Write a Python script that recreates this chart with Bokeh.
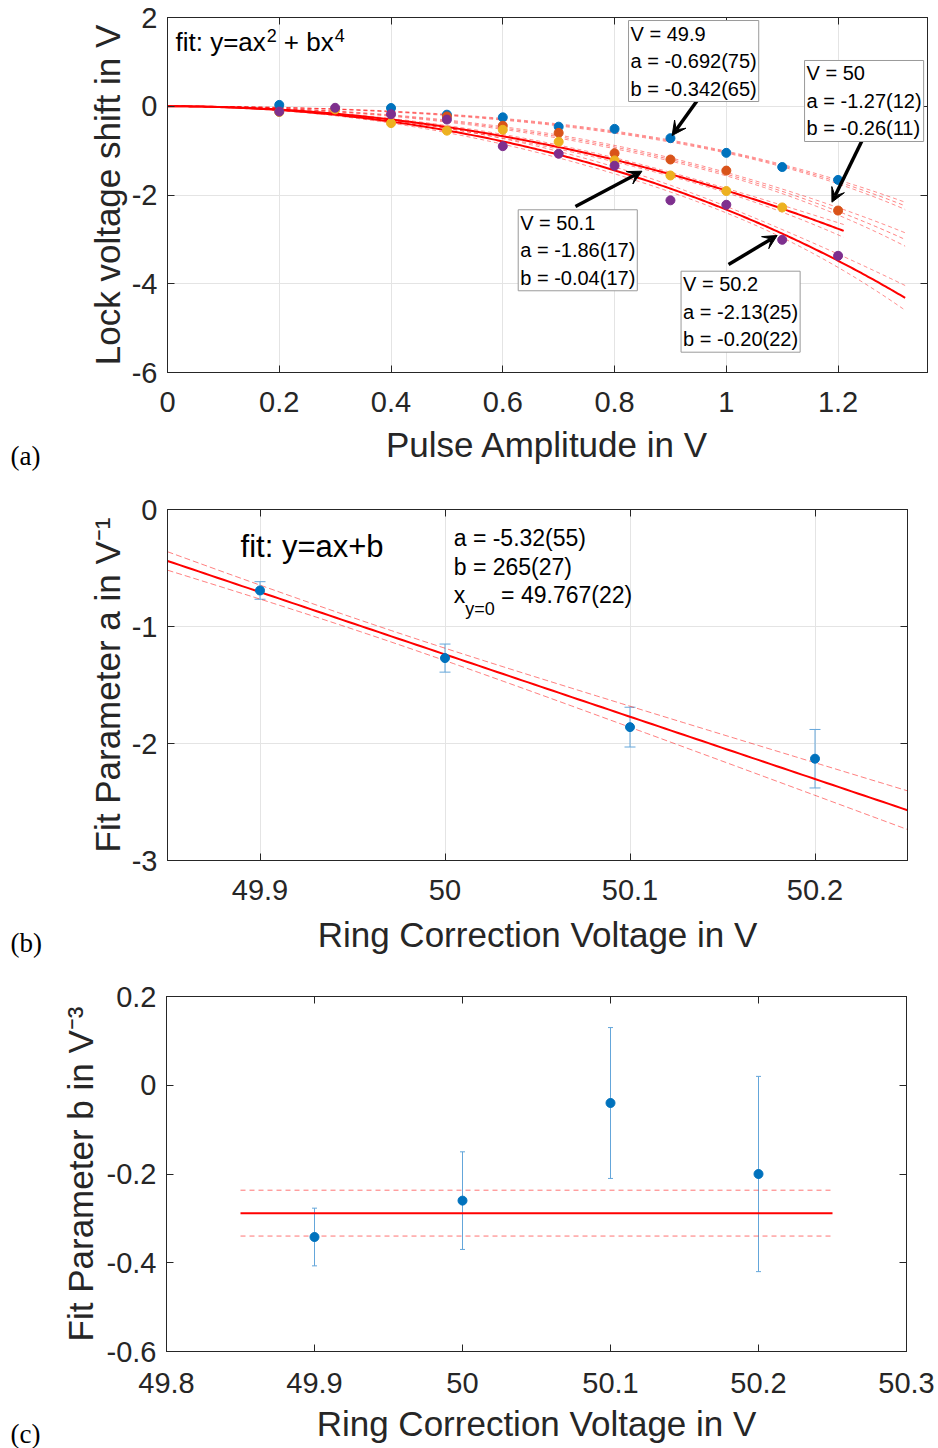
import numpy as np
from bokeh.plotting import figure
from bokeh.layouts import column, row
from bokeh.models import (FixedTicker, LinearAxis, Range1d, Label, Arrow, VeeHead,
                          Whisker, TeeHead, ColumnDataSource)
from bokeh.embed import file_html
from bokeh.resources import INLINE

# ---------------- data ----------------
ring_voltage = [49.9, 50.0, 50.1, 50.2]
ring_text = ["49.9", "50", "50.1", "50.2"]
fit_a = [-0.692, -1.27, -1.86, -2.13]
fit_a_err = [0.075, 0.12, 0.17, 0.25]
fit_b = [-0.342, -0.26, -0.04, -0.20]
fit_b_err = [0.065, 0.11, 0.17, 0.22]
a_text = ["-0.692(75)", "-1.27(12)", "-1.86(17)", "-2.13(25)"]
b_text = ["-0.342(65)", "-0.26(11)", "-0.04(17)", "-0.20(22)"]

# Panel (a): lock voltage shift vs pulse amplitude, one series per ring voltage
amp_499 = [0.2, 0.4, 0.5, 0.6, 0.7, 0.8, 0.9, 1.0, 1.1, 1.2]
shift_499 = [0.03, -0.04, -0.19, -0.25, -0.46, -0.51, -0.72, -1.05, -1.37, -1.66]
amp_500 = [0.5, 0.6, 0.7, 0.8, 0.9, 1.0, 1.2]
shift_500 = [-0.23, -0.44, -0.60, -1.06, -1.20, -1.45, -2.35]
amp_501 = [0.2, 0.3, 0.4, 0.5, 0.6, 0.7, 0.8, 0.9, 1.0, 1.1]
shift_501 = [-0.13, -0.07, -0.38, -0.55, -0.53, -0.80, -1.22, -1.56, -1.91, -2.28]
amp_502 = [0.2, 0.3, 0.4, 0.5, 0.6, 0.7, 0.8, 0.9, 1.0, 1.1, 1.2]
shift_502 = [-0.12, -0.035, -0.18, -0.30, -0.90, -1.07, -1.34, -2.12, -2.22, -3.01, -3.37]

# Panel (b) linear fit result texts
lin_a_text = "a = -5.32(55)"
lin_b_text = "b = 265(27)"
lin_x0_text = "= 49.767(22)"
lin_slope_err = 0.55

panel_names = ["(a)", "(b)", "(c)"]

# ticks
xt_a = [0, 0.2, 0.4, 0.6, 0.8, 1.0, 1.2]
xl_a = ["0", "0.2", "0.4", "0.6", "0.8", "1", "1.2"]
yt_a = [-6, -4, -2, 0, 2]
yl_a = ["-6", "-4", "-2", "0", "2"]
xt_b = [49.9, 50.0, 50.1, 50.2]
xl_b = ["49.9", "50", "50.1", "50.2"]
yt_b = [-3, -2, -1, 0]
yl_b = ["-3", "-2", "-1", "0"]
xt_c = [49.8, 49.9, 50.0, 50.1, 50.2, 50.3]
xl_c = ["49.8", "49.9", "50", "50.1", "50.2", "50.3"]
yt_c = [-0.6, -0.4, -0.2, 0, 0.2]
yl_c = ["-0.6", "-0.4", "-0.2", "0", "0.2"]

# ---------------- style ----------------
FONT = "Liberation Sans"
SERIF = "Liberation Serif"
AXC = "#262626"
COLORS = ["#0072BD", "#D95319", "#EDB120", "#7E2F8E"]
EBC = "#64a6da"
LABW = 50  # width of the strip holding the panel letter
BASE_SHIFT = 0.3465  # em offset between label anchor and alphabetic baseline

AW = {' ': 278, '(': 333, ')': 333, '+': 584, '-': 333, '.': 278, ':': 278, '=': 584,
      'a': 556, 'b': 556, 'f': 278, 'i': 222, 't': 278, 'x': 500, 'y': 500, 'V': 667}
for _d in "0123456789":
    AW[_d] = 556


def tw(s, size):
    return sum(AW.get(c, 556) for c in s) * size / 1000.0


def rich(p, x, y, pieces):
    off = 0.0
    for text, size, dy, gap in pieces:
        off += gap
        p.add_layout(Label(x=x, y=y, x_offset=off, y_offset=dy + BASE_SHIFT * size, text=text,
                           text_font=FONT, text_font_size=f"{size}px",
                           text_baseline="middle", text_align="left",
                           text_color="black"))
        off += tw(text, size)


def style(p, xt, xl, yt, yl, xtitle, ytitle, grid, xls=19, xas=10, yls=10, yas=2):
    xa, ya = p.xaxis[0], p.yaxis[0]
    xa.ticker = FixedTicker(ticks=xt)
    ya.ticker = FixedTicker(ticks=yt)
    xa.major_label_overrides = dict(zip(xt, xl))
    ya.major_label_overrides = dict(zip(yt, yl))
    xa.axis_label = xtitle
    ya.axis_label = ytitle
    for ax in (xa, ya):
        ax.major_label_text_font = FONT
        ax.major_label_text_font_size = "29px"
        ax.major_label_text_color = AXC
        ax.axis_label_text_font = FONT
        ax.axis_label_text_font_size = "35px"
        ax.axis_label_text_font_style = "normal"
        ax.axis_label_text_color = AXC
        ax.axis_line_color = AXC
        ax.major_tick_in = 7
        ax.major_tick_out = 0
        ax.major_tick_line_color = AXC
        ax.minor_tick_line_color = None
    xa.major_label_standoff = xls
    xa.axis_label_standoff = xas
    ya.major_label_standoff = yls
    ya.axis_label_standoff = yas
    for loc, ticks in (("above", xt), ("right", yt)):
        ax = LinearAxis(ticker=FixedTicker(ticks=ticks),
                        major_label_overrides={t: "" for t in ticks},
                        major_label_text_font_size="1px", major_label_standoff=0,
                        major_tick_in=7, major_tick_out=0, minor_tick_line_color=None,
                        axis_line_color=AXC, major_tick_line_color=AXC)
        p.add_layout(ax, loc)
    if grid:
        p.xgrid.ticker = FixedTicker(ticks=xt)
        p.ygrid.ticker = FixedTicker(ticks=yt)
        p.grid.grid_line_color = "#e4e4e4"
        p.grid.grid_line_width = 1
    else:
        p.grid.grid_line_color = None
    p.outline_line_color = AXC
    p.outline_line_width = 1
    p.background_fill_color = "white"
    p.border_fill_color = "white"


def letter_strip(text, height, center_from_top):
    lp = figure(width=LABW, height=height, x_range=Range1d(0, LABW), y_range=Range1d(0, height),
                x_axis_location=None, y_axis_location=None, min_border=0,
                output_backend="svg", toolbar_location=None)
    lp.frame_align = False
    lp.outline_line_color = None
    lp.border_fill_color = "white"
    for g in lp.grid:
        g.visible = False
    lp.add_layout(Label(x=10, y=height - center_from_top, text=text, text_font=SERIF,
                        text_font_size="27px", text_baseline="middle", text_align="left",
                        text_color="black"))
    return lp


# ---------------- panel (a) ----------------
H1, H2, H3 = 486, 482, 480
p1 = figure(width=888, height=H1, x_range=Range1d(0, 1.36), y_range=Range1d(-6, 2),
            output_backend="svg", toolbar_location=None,
            min_border_left=117, min_border_right=11, min_border_top=17, min_border_bottom=114)
style(p1, xt_a, xl_a, yt_a, yl_a, "Pulse Amplitude in V", "Lock voltage shift in V", True,
      xls=19, xas=10)

amps = [amp_499, amp_500, amp_501, amp_502]
shifts = [shift_499, shift_500, shift_501, shift_502]
curve_end = [1.32, 1.32, 1.21, 1.32]
curve_solid = [False, False, True, True]
for i in range(4):
    xs = np.linspace(0, curve_end[i], 300)
    a, b, da, db = fit_a[i], fit_b[i], fit_a_err[i], fit_b_err[i]
    yc = a * xs ** 2 + b * xs ** 4
    am = np.array(amps[i])
    rho = -np.sum(am ** 6) / np.sqrt(np.sum(am ** 4) * np.sum(am ** 8))
    sig = np.sqrt(np.clip(xs ** 4 * da ** 2 + xs ** 8 * db ** 2 + 2 * rho * xs ** 6 * da * db, 0, None))
    for s in (-1, 1):
        p1.line(xs, yc + s * sig, line_color="#ff0000", line_alpha=0.45, line_width=1,
                line_dash="4 3")
    if curve_solid[i]:
        p1.line(xs, yc, line_color="#ff0000", line_width=2)
    else:
        p1.line(xs, yc, line_color="#ff0000", line_alpha=0.5, line_width=1, line_dash="4 3")

for i in range(4):
    p1.scatter(amps[i], shifts[i], size=9, fill_color=COLORS[i], line_color=COLORS[i])

# annotation boxes and arrows
box_x = [0.825, 1.140, 0.6276, 0.919]
box_y = [1.932, 1.031, -2.333, -3.717]
arr_x0 = [0.948, 1.243, 0.730, 1.004]
arr_y0 = [0.130, -0.772, -2.259, -3.566]
arr_x1 = [0.903, 1.189, 0.849, 1.091]
arr_y1 = [-0.659, -2.162, -1.464, -2.912]
for i in range(4):
    p1.add_layout(Arrow(x_start=arr_x0[i], y_start=arr_y0[i], x_end=arr_x1[i], y_end=arr_y1[i],
                        line_width=3.5, line_color="black",
                        end=VeeHead(size=14, fill_color="black", line_color="black",
                                    line_width=1)))
    p1.add_layout(Label(x=box_x[i], y=box_y[i],
                        text=f"V = {ring_text[i]}\na = {a_text[i]}\nb = {b_text[i]}",
                        anchor="top_left", text_align="left", text_baseline="top",
                        text_font=FONT, text_font_size="20px", text_line_height=1.25,
                        text_color="black", padding=2,
                        background_fill_color="white", border_line_color="#9a9a9a",
                        border_line_width=1))

rich(p1, 0.0143, 1.24, [("fit: y=ax", 26, 0, 0), ("2", 18, 9, 1), ("+ bx", 26, 0, 7),
                        ("4", 18, 9, 1)])

# ---------------- panel (b) ----------------
p2 = figure(width=888, height=H2, x_range=Range1d(49.85, 50.25), y_range=Range1d(-3, 0),
            output_backend="svg", toolbar_location=None,
            min_border_left=117, min_border_right=31, min_border_top=23, min_border_bottom=108)
style(p2, xt_b, xl_b, yt_b, yl_b, "Ring Correction Voltage in V", "Fit Parameter a in V⁻¹",
      True, xls=19, xas=12)

V = np.array(ring_voltage)
A = np.array(fit_a)
w = 1.0 / np.array(fit_a_err) ** 2
X = np.vstack([np.ones_like(V), V - 50.0]).T
cov = np.linalg.inv(X.T @ (w[:, None] * X))
beta = cov @ (X.T @ (w * A))
cov = cov * (lin_slope_err ** 2 / cov[1, 1])
xs = np.linspace(49.85, 50.25, 120)
U = np.vstack([np.ones_like(xs), xs - 50.0]).T
yc = U @ beta
sig = np.sqrt(np.einsum("ij,jk,ik->i", U, cov, U))
for s in (-1, 1):
    p2.line(xs, yc + s * sig, line_color="#ff0000", line_alpha=0.5, line_width=1, line_dash="6 3")
p2.line(xs, yc, line_color="#ff0000", line_width=2)

src_b = ColumnDataSource(dict(x=ring_voltage, y=fit_a,
                              lo=[v - e for v, e in zip(fit_a, fit_a_err)],
                              hi=[v + e for v, e in zip(fit_a, fit_a_err)]))
p2.add_layout(Whisker(source=src_b, base="x", upper="hi", lower="lo", line_color=EBC,
                      line_width=1,
                      upper_head=TeeHead(size=11, line_color=EBC, line_width=1),
                      lower_head=TeeHead(size=11, line_color=EBC, line_width=1)))
p2.scatter("x", "y", source=src_b, size=9, fill_color=COLORS[0], line_color=COLORS[0])

rich(p2, 49.8895, -0.41, [("fit: y=ax+b", 31, 0, 0)])
rich(p2, 50.0047, -0.311, [(lin_a_text, 23, 0, 0)])
rich(p2, 50.0047, -0.561, [(lin_b_text, 23, 0, 0)])
rich(p2, 50.0047, -0.803, [("x", 23, 0, 0), ("y=0", 18, -11.7, 0), (lin_x0_text, 23, 0, 6.4)])

# ---------------- panel (c) ----------------
p3 = figure(width=888, height=H3, x_range=Range1d(49.8, 50.3), y_range=Range1d(-0.6, 0.2),
            output_backend="svg", toolbar_location=None,
            min_border_left=116, min_border_right=32, min_border_top=28, min_border_bottom=97)
style(p3, xt_c, xl_c, yt_c, yl_c, "Ring Correction Voltage in V", "Fit Parameter b in V⁻³",
      False, xls=21, xas=8, yas=4)

wb = 1.0 / np.array(fit_b_err) ** 2
b_mean = float(np.sum(wb * np.array(fit_b)) / np.sum(wb))
b_mean_err = float(1.0 / np.sqrt(np.sum(wb)))
line_x = [49.85, 50.25]
for s in (-1, 1):
    p3.line(line_x, [b_mean + s * b_mean_err] * 2, line_color="#ff0000", line_alpha=0.55,
            line_width=1, line_dash="5 4")
p3.line(line_x, [b_mean] * 2, line_color="#ff0000", line_width=2)

src_c = ColumnDataSource(dict(x=ring_voltage, y=fit_b,
                              lo=[v - e for v, e in zip(fit_b, fit_b_err)],
                              hi=[v + e for v, e in zip(fit_b, fit_b_err)]))
p3.add_layout(Whisker(source=src_c, base="x", upper="hi", lower="lo", line_color=EBC,
                      line_width=1,
                      upper_head=TeeHead(size=5, line_color=EBC, line_width=1),
                      lower_head=TeeHead(size=5, line_color=EBC, line_width=1)))
p3.scatter("x", "y", source=src_c, size=9, fill_color=COLORS[0], line_color=COLORS[0])

lab_a = letter_strip(panel_names[0], H1, 455)
lab_b = letter_strip(panel_names[1], H2, 456)
lab_c = letter_strip(panel_names[2], H3, 465)

layout = column(row(lab_a, p1, spacing=0), row(lab_b, p2, spacing=0),
                row(lab_c, p3, spacing=0), spacing=0)
open("out.html", "w").write(file_html(layout, INLINE))
